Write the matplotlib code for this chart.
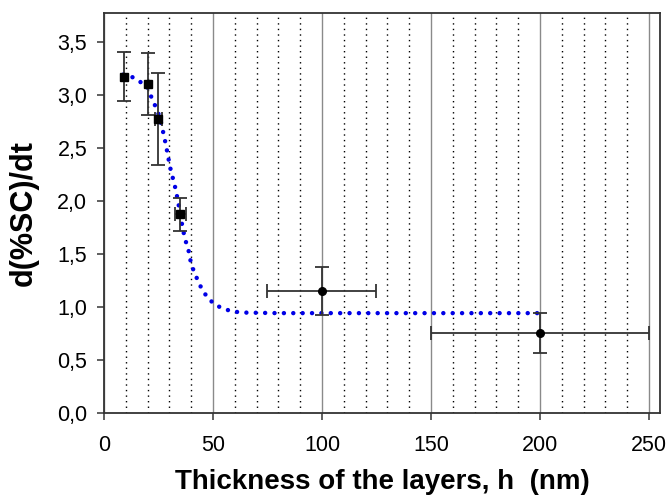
import numpy as np
import matplotlib.pyplot as plt

plt.rcParams['font.family'] = ['Liberation Sans', 'DejaVu Sans']

# measured points
h = [9, 20, 25, 35, 100, 200]
rate = [3.17, 3.10, 2.77, 1.87, 1.15, 0.75]
rate_err = [0.23, 0.29, 0.43, 0.16, 0.225, 0.19]
h_err = [0, 0, 1.5, 2.5, 25, 50]

# fitted curve (blue dotted)
fit_h = [9, 12.6, 16, 20, 21.9, 23.4, 24.7, 25.7, 26.6, 28.4, 30.3, 33, 34, 35,
         36.2, 38, 39.1, 40, 42.2, 43.6, 45.7, 48.2, 51.7, 55.4, 58.7, 65, 80,
         100, 150, 200]
fit_rate = [3.19, 3.17, 3.13, 3.07, 2.97, 2.90, 2.84, 2.77, 2.70, 2.53, 2.32,
            2.10, 1.99, 1.88, 1.73, 1.58, 1.51, 1.40, 1.29, 1.22, 1.14, 1.07,
            1.01, 0.98, 0.955, 0.945, 0.94, 0.94, 0.94, 0.94]

fig = plt.figure(figsize=(6.66, 4.98), dpi=100)
ax = fig.add_axes([0.156, 0.171, 0.835, 0.803])

ax.set_xlim(0, 255)
ax.set_ylim(0, 3.77)
ax.set_xticks(np.arange(0, 251, 50))
ax.set_xticks(np.arange(10, 251, 10), minor=True)
yt = np.arange(0, 3.51, 0.5)
ax.set_yticks(yt)
ax.set_yticklabels([('%.1f' % v).replace('.', ',') for v in yt])

ax.grid(True, which='major', axis='x', color='#8a8a8a', lw=1.0, ls='-')
ax.grid(True, which='minor', axis='x', color='black', lw=1.0, ls=(0, (1, 3)))
ax.set_axisbelow(True)

ax.tick_params(which='major', direction='out', length=5, width=1.2, color='#444444',
               labelsize=15.5)
ax.tick_params(axis='x', pad=11)
ax.tick_params(axis='y', pad=7)
ax.tick_params(which='minor', length=0)
for s in ax.spines.values():
    s.set_color('#333333')
    s.set_linewidth(1.3)

ax.plot(fit_h, fit_rate, color='#0000e6', lw=3.2, ls=(0, (0.01, 2.1)),
        dash_capstyle='round', zorder=3)

for i in range(len(h)):
    mk = 's' if i < 4 else 'o'
    ax.errorbar(h[i], rate[i], yerr=rate_err[i], xerr=h_err[i] if h_err[i] else None,
                fmt=mk, color='black', ms=5.5, ecolor='#333333', elinewidth=1.3,
                capsize=5, capthick=1.3, zorder=4)

ax.set_xlabel('Thickness of the layers, h  (nm)', fontsize=20, fontweight='bold')
ax.set_ylabel('d(%SC)/dt', fontsize=22, fontweight='bold')
ax.xaxis.set_label_coords(0.5, -0.14)
ax.yaxis.set_label_coords(-0.118, 0.5)

fig.savefig('out.png', dpi=100)
